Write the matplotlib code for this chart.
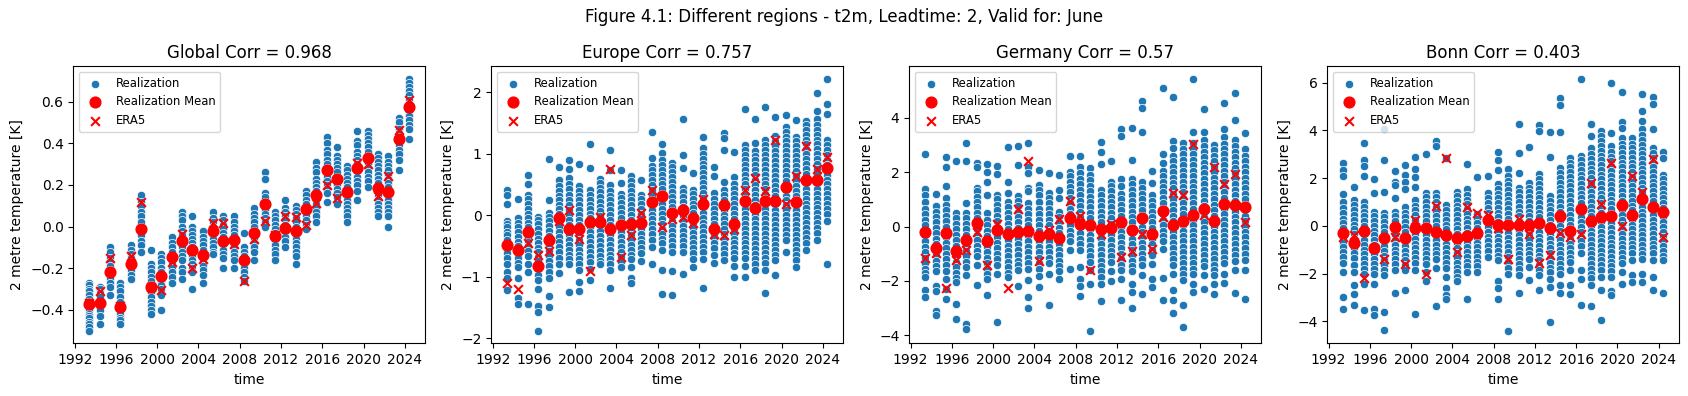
import matplotlib
matplotlib.use("Agg")
import matplotlib.pyplot as plt
import pandas as pd

years = list(range(1993, 2025))
regions = ["Global", "Europe", "Germany", "Bonn"]
correlations = ["0.968", "0.757", "0.57", "0.403"]

# ensemble members per year (dense runs thinned)
global_real = [
    [-0.27, -0.28, -0.30, -0.31, -0.33, -0.35, -0.36, -0.38, -0.39, -0.40, -0.42, -0.43, -0.44, -0.46, -0.47, -0.48, -0.50],
    [-0.29, -0.30, -0.32, -0.34, -0.36, -0.38, -0.39, -0.40, -0.43, -0.47],
    [-0.10, -0.12, -0.15, -0.17, -0.19, -0.21, -0.23, -0.25, -0.27, -0.29, -0.33],
    [-0.27, -0.29, -0.31, -0.34, -0.36, -0.38, -0.40, -0.42, -0.44, -0.45, -0.47],
    [-0.09, -0.11, -0.13, -0.15, -0.17, -0.19, -0.21, -0.23, -0.25],
    [0.15, 0.12, 0.10, 0.07, 0.05, 0.02, 0.00, -0.02, -0.04, -0.07, -0.09, -0.12],
    [-0.11, -0.18, -0.20, -0.22, -0.24, -0.26, -0.28, -0.30, -0.32, -0.34, -0.36, -0.38, -0.40, -0.42],
    [-0.13, -0.15, -0.17, -0.20, -0.22, -0.24, -0.26, -0.28, -0.30, -0.33, -0.40],
    [-0.05, -0.08, -0.10, -0.12, -0.14, -0.16, -0.18, -0.20, -0.22, -0.24, -0.27],
    [0.07, 0.05, 0.03, 0.00, -0.02, -0.04, -0.06, -0.08, -0.10, -0.12, -0.14, -0.16, -0.20, -0.22, -0.25],
    [0.05, 0.00, -0.02, -0.04, -0.06, -0.08, -0.10, -0.12, -0.14, -0.16, -0.18, -0.20, -0.22, -0.30],
    [-0.02, -0.05, -0.07, -0.09, -0.11, -0.13, -0.15, -0.17, -0.19, -0.21, -0.23, -0.27],
    [0.07, 0.04, 0.02, 0.00, -0.02, -0.04, -0.06, -0.08, -0.10, -0.12, -0.13],
    [0.05, 0.03, 0.01, -0.01, -0.03, -0.05, -0.07, -0.09, -0.11, -0.13, -0.15, -0.20],
    [0.05, 0.02, 0.00, -0.02, -0.04, -0.06, -0.08, -0.10, -0.12, -0.14, -0.16, -0.20],
    [-0.03, -0.10, -0.12, -0.14, -0.16, -0.18, -0.20, -0.22, -0.24, -0.26],
    [0.09, 0.06, 0.04, 0.02, 0.00, -0.02, -0.04, -0.06, -0.08, -0.10, -0.12, -0.16],
    [0.26, 0.23, 0.16, 0.14, 0.12, 0.10, 0.08, 0.06, 0.04, 0.02, 0.00],
    [0.07, 0.05, 0.03, 0.01, -0.01, -0.03, -0.05, -0.07, -0.09, -0.11, -0.13, -0.16],
    [0.13, 0.09, 0.07, 0.05, 0.03, 0.01, -0.01, -0.03, -0.05, -0.07, -0.10],
    [0.10, 0.08, 0.06, 0.04, 0.02, 0.00, -0.02, -0.04, -0.06, -0.08, -0.10, -0.12, -0.14, -0.18],
    [0.17, 0.15, 0.13, 0.11, 0.09, 0.07, 0.05, 0.03, 0.01, -0.01],
    [0.31, 0.28, 0.26, 0.23, 0.21, 0.19, 0.17, 0.15, 0.13, 0.11, 0.09, 0.07, 0.05, 0.02],
    [0.43, 0.40, 0.37, 0.35, 0.32, 0.30, 0.28, 0.26, 0.24, 0.22, 0.20, 0.18, 0.16, 0.12],
    [0.38, 0.34, 0.32, 0.30, 0.28, 0.26, 0.24, 0.22, 0.20, 0.18, 0.16, 0.14, 0.11],
    [0.29, 0.27, 0.25, 0.23, 0.21, 0.19, 0.17, 0.15, 0.13, 0.11, 0.09, 0.07, 0.05, 0.02],
    [0.46, 0.41, 0.39, 0.36, 0.34, 0.32, 0.30, 0.28, 0.26, 0.24, 0.22, 0.20, 0.17, 0.13],
    [0.46, 0.44, 0.42, 0.40, 0.38, 0.36, 0.34, 0.32, 0.30, 0.28, 0.26, 0.24, 0.22, 0.19],
    [0.35, 0.33, 0.31, 0.29, 0.27, 0.25, 0.23, 0.21, 0.19, 0.17, 0.15, 0.13, 0.11, 0.09, 0.07, 0.05],
    [0.34, 0.31, 0.29, 0.27, 0.25, 0.23, 0.21, 0.19, 0.17, 0.15, 0.13, 0.11, 0.09, 0.07, 0.05, 0.00],
    [0.52, 0.50, 0.47, 0.45, 0.43, 0.41, 0.39, 0.37, 0.35, 0.32, 0.27],
    [0.71, 0.69, 0.67, 0.65, 0.63, 0.61, 0.59, 0.57, 0.55, 0.53, 0.51, 0.49, 0.47, 0.42],
]
global_mean = [-0.37, -0.365, -0.22, -0.385, -0.18, -0.01, -0.29, -0.235, -0.145, -0.07, -0.11, -0.135, -0.02, -0.07,
               -0.065, -0.16, -0.03, 0.11, -0.045, -0.005, -0.02, 0.085, 0.15, 0.27, 0.23, 0.165, 0.28, 0.33, 0.185,
               0.165, 0.42, 0.575]
global_era5 = [-0.365, -0.31, -0.15, -0.38, -0.14, 0.12, -0.29, -0.305, -0.17, -0.035, -0.2, -0.155, 0.015, 0.015,
               -0.085, -0.26, -0.06, 0.025, -0.04, 0.05, 0.045, 0.01, 0.115, 0.2, 0.135, 0.165, 0.305, 0.3, 0.145,
               0.245, 0.465, 0.61]

europe_real = [
    [0.41, 0.33, 0.18, -0.09, -0.15, -0.20, -0.27, -0.33, -0.40, -0.47, -0.55, -0.62, -0.70, -0.80, -0.93, -1.02, -1.22],
    [0.27, -0.05, -0.12, -0.20, -0.28, -0.36, -0.43, -0.50, -0.57, -0.63, -0.70, -0.78, -0.85, -1.03, -1.35, -1.45],
    [0.65, 0.50, 0.33, 0.26, 0.18, 0.10, 0.02, -0.05, -0.12, -0.20, -0.28, -0.35, -0.43, -0.50, -0.58, -0.66, -0.80, -0.93, -1.44],
    [-0.03, -0.08, -0.15, -0.23, -0.30, -0.38, -0.46, -0.53, -0.60, -0.68, -0.75, -0.83, -0.90, -0.98, -1.05, -1.20, -1.47, -1.58, -1.88],
    [0.92, 0.24, 0.04, -0.03, -0.10, -0.18, -0.26, -0.34, -0.42, -0.50, -0.58, -0.66, -0.74, -0.82, -0.92, -1.03, -1.32, -1.49],
    [0.78, 0.57, 0.47, 0.40, 0.32, 0.25, 0.17, 0.10, 0.02, -0.05, -0.12, -0.20, -0.28, -0.35, -0.43, -0.52, -0.60, -0.70, -0.80, -0.94],
    [0.89, 0.75, 0.60, 0.50, 0.42, 0.33, 0.25, 0.17, 0.08, 0.00, -0.08, -0.16, -0.24, -0.32, -0.40, -0.48, -0.56, -0.64, -0.72, -0.80, -1.25],
    [0.83, 0.47, 0.40, 0.32, 0.24, 0.16, 0.08, 0.00, -0.08, -0.16, -0.24, -0.32, -0.40, -0.48, -0.56, -0.64, -0.72, -0.80, -0.90, -1.09, -1.24],
    [1.15, 0.76, 0.41, 0.33, 0.25, 0.17, 0.10, 0.02, -0.05, -0.12, -0.20, -0.28, -0.36, -0.44, -0.52, -0.60, -0.68, -0.76, -0.87, -1.06],
    [0.59, 0.52, 0.45, 0.38, 0.30, 0.22, 0.14, 0.06, -0.02, -0.10, -0.18, -0.26, -0.34, -0.42, -0.50, -0.58, -0.66, -0.74, -0.79],
    [1.06, 0.73, 0.49, 0.40, 0.32, 0.24, 0.16, 0.08, 0.00, -0.08, -0.16, -0.24, -0.32, -0.40, -0.48, -0.56, -0.64, -0.72, -0.80, -0.90, -1.18],
    [0.73, 0.53, 0.35, 0.28, 0.20, 0.12, 0.04, -0.04, -0.12, -0.20, -0.28, -0.36, -0.44, -0.52, -0.60, -0.68, -0.76, -0.84],
    [0.64, 0.56, 0.48, 0.40, 0.32, 0.24, 0.16, 0.08, 0.00, -0.08, -0.16, -0.24, -0.32, -0.40, -0.48, -0.56, -0.64, -0.72, -0.85, -1.02, -1.11],
    [0.57, 0.33, 0.26, 0.18, 0.10, 0.02, -0.06, -0.14, -0.22, -0.30, -0.38, -0.46, -0.54, -0.62, -0.74],
    [1.36, 0.93, 0.80, 0.73, 0.65, 0.57, 0.49, 0.41, 0.33, 0.25, 0.17, 0.09, 0.01, -0.07, -0.15, -0.23, -0.31, -0.40, -0.52, -0.79],
    [1.15, 1.01, 0.90, 0.82, 0.74, 0.66, 0.58, 0.50, 0.42, 0.34, 0.26, 0.18, 0.10, 0.02, -0.06, -0.14, -0.22, -0.30, -0.38, -0.46, -0.57, -0.90, -1.28],
    [0.85, 0.78, 0.70, 0.62, 0.54, 0.46, 0.38, 0.30, 0.22, 0.14, 0.06, -0.02, -0.10, -0.18, -0.26, -0.34, -0.42, -0.50, -0.60, -0.91, -1.30],
    [1.56, 0.98, 0.76, 0.45, 0.38, 0.30, 0.22, 0.14, 0.06, -0.02, -0.10, -0.18, -0.26, -0.34, -0.42, -0.50, -0.60, -0.96],
    [0.68, 0.41, 0.35, 0.27, 0.19, 0.11, 0.03, -0.05, -0.13, -0.21, -0.29, -0.37, -0.45, -0.53, -0.61, -0.71, -0.85],
    [1.27, 1.09, 1.00, 0.92, 0.84, 0.76, 0.68, 0.60, 0.52, 0.44, 0.36, 0.28, 0.20, 0.12, 0.04, -0.04, -0.12, -0.20, -0.28, -0.36, -0.44, -0.52, -0.60, -0.71, -1.18],
    [0.79, 0.63, 0.36, 0.26, 0.18, 0.10, 0.02, -0.06, -0.14, -0.22, -0.30, -0.38, -0.46, -0.54, -0.64, -0.77],
    [1.34, 1.25, 1.06, 0.54, 0.41, 0.33, 0.25, 0.17, 0.09, 0.01, -0.07, -0.15, -0.23, -0.31, -0.39, -0.47, -0.55, -0.63, -0.73],
    [1.02, 0.62, 0.50, 0.42, 0.34, 0.26, 0.18, 0.10, 0.02, -0.06, -0.14, -0.22, -0.30, -0.38, -0.46, -0.54, -0.62, -0.70, -0.82, -1.01],
    [1.73, 1.14, 1.06, 0.98, 0.90, 0.82, 0.74, 0.66, 0.58, 0.50, 0.42, 0.34, 0.26, 0.18, 0.10, 0.02, -0.06, -0.14, -0.22, -0.30, -0.38, -0.46, -0.54, -0.62, -0.70, -0.82, -1.01],
    [1.56, 1.17, 1.05, 0.97, 0.89, 0.81, 0.73, 0.65, 0.57, 0.49, 0.41, 0.33, 0.25, 0.17, 0.09, 0.01, -0.07, -0.15, -0.23, -0.31, -0.39, -0.47, -0.55, -0.63, -0.71, -0.79, -0.90],
    [1.76, 1.22, 1.14, 1.06, 0.98, 0.90, 0.82, 0.74, 0.66, 0.58, 0.50, 0.42, 0.34, 0.26, 0.18, 0.10, 0.02, -0.06, -0.14, -0.22, -0.30, -0.38, -0.46, -0.54, -0.62, -0.70, -0.78, -0.90, -1.26],
    [1.60, 1.29, 1.20, 1.12, 1.04, 0.96, 0.88, 0.80, 0.72, 0.64, 0.56, 0.48, 0.40, 0.32, 0.24, 0.16, 0.08, 0.00, -0.08, -0.16, -0.24, -0.32, -0.40, -0.48, -0.56, -0.64, -0.73, -0.98],
    [1.63, 1.44, 1.36, 1.28, 1.20, 1.12, 1.04, 0.96, 0.88, 0.80, 0.72, 0.64, 0.56, 0.48, 0.40, 0.32, 0.24, 0.16, 0.08, 0.00, -0.08, -0.16, -0.24, -0.32, -0.41, -0.60],
    [1.55, 1.28, 1.20, 1.12, 1.04, 0.96, 0.88, 0.80, 0.72, 0.64, 0.56, 0.48, 0.40, 0.32, 0.24, 0.16, 0.08, 0.00, -0.08, -0.16, -0.24, -0.32, -0.40, -0.48, -0.56, -0.64, -0.73, -0.84],
    [1.54, 1.47, 1.39, 1.31, 1.23, 1.15, 1.07, 0.99, 0.91, 0.83, 0.75, 0.67, 0.59, 0.51, 0.43, 0.35, 0.27, 0.19, 0.11, 0.03, -0.05, -0.13, -0.21, -0.29, -0.37, -0.45, -0.57],
    [1.99, 1.69, 1.56, 1.47, 1.39, 1.31, 1.23, 1.15, 1.07, 0.99, 0.91, 0.83, 0.75, 0.67, 0.59, 0.51, 0.43, 0.35, 0.27, 0.19, 0.11, 0.03, -0.05, -0.13, -0.21, -0.29, -0.41],
    [2.22, 1.81, 1.65, 1.22, 1.14, 1.06, 0.98, 0.90, 0.82, 0.74, 0.66, 0.58, 0.50, 0.42, 0.34, 0.26, 0.18, 0.10, 0.02, -0.09, -0.79],
]
europe_mean = [-0.49, -0.56, -0.27, -0.83, -0.41, -0.05, -0.22, -0.23, -0.11, -0.11, -0.23, -0.16, -0.14, -0.13, 0.22,
               0.31, 0.03, 0.08, -0.04, 0.18, -0.23, 0.17, -0.15, 0.23, 0.11, 0.23, 0.23, 0.46, 0.22, 0.57, 0.57, 0.77]
europe_era5 = [-1.10, -1.2, -0.46, -0.65, -0.58, -0.09, 0.09, -0.38, -0.91, -0.03, 0.75, -0.68, -0.33, 0.04, 0.41,
               -0.19, -0.07, -0.03, -0.13, 0.27, -0.31, -0.33, -0.23, 0.41, 0.60, 0.40, 1.22, 0.18, 0.64, 1.12, 0.75, 0.94]

germany_real = [
    [2.66, 1.37, 1.15, 0.90, 0.65, 0.45, 0.25, 0.05, -0.15, -0.35, -0.55, -0.75, -0.95, -1.15, -1.35, -1.55, -1.70, -1.85, -2.35, -2.60],
    [1.18, 0.76, 0.54, 0.35, 0.15, -0.05, -0.25, -0.45, -0.65, -0.85, -1.05, -1.25, -1.45, -1.65, -2.17, -2.38, -3.09, -3.27],
    [2.55, 2.20, 1.50, 1.03, 0.80, 0.60, 0.40, 0.20, 0.00, -0.20, -0.40, -0.60, -0.80, -1.00, -1.20, -1.40, -1.64, -1.92, -2.29, -2.66],
    [2.41, 0.48, 0.30, 0.10, -0.10, -0.30, -0.50, -0.70, -0.90, -1.10, -1.30, -1.50, -1.70, -1.90, -2.04, -2.84, -3.40],
    [3.06, 2.41, 0.85, 0.50, 0.30, 0.10, -0.10, -0.30, -0.50, -0.70, -0.90, -1.10, -1.30, -1.50, -1.77, -3.58, -3.77],
    [2.35, 2.20, 1.43, 1.30, 1.10, 0.90, 0.70, 0.50, 0.30, 0.10, -0.10, -0.30, -0.50, -0.70, -0.90, -1.10, -1.43, -2.14],
    [2.29, 2.02, 1.62, 1.16, 0.48, 0.25, 0.05, -0.15, -0.35, -0.55, -0.75, -0.95, -1.15, -1.35, -1.55, -1.75, -1.92, -2.50],
    [2.23, 1.93, 1.16, 1.00, 0.80, 0.60, 0.40, 0.20, 0.00, -0.20, -0.40, -0.60, -0.80, -1.00, -1.20, -1.40, -1.73, -3.50],
    [2.92, 1.65, 1.22, 0.90, 0.70, 0.50, 0.30, 0.10, -0.10, -0.30, -0.50, -0.70, -0.90, -1.10, -1.30, -1.50, -1.70, -1.86],
    [2.97, 2.26, 1.13, 0.95, 0.75, 0.55, 0.35, 0.15, -0.05, -0.25, -0.45, -0.65, -0.85, -1.05, -1.25, -1.40, -1.59, -2.17],
    [3.06, 2.20, 1.96, 1.40, 1.30, 0.87, 0.65, 0.45, 0.25, 0.05, -0.15, -0.35, -0.55, -0.75, -0.95, -1.15, -1.35, -1.55, -1.98, -2.60, -2.99],
    [2.08, 1.53, 1.35, 1.16, 0.90, 0.65, 0.45, 0.25, 0.05, -0.15, -0.35, -0.55, -0.75, -0.95, -1.15, -1.35, -1.55, -1.83, -2.23],
    [1.98, 1.22, 1.05, 0.85, 0.65, 0.45, 0.25, 0.05, -0.15, -0.35, -0.55, -0.75, -0.95, -1.15, -1.35, -1.73, -2.90],
    [1.90, 1.34, 1.05, 0.54, 0.35, 0.15, -0.05, -0.25, -0.45, -0.65, -0.85, -1.05, -1.25, -1.45, -1.65, -1.92],
    [2.60, 2.02, 1.85, 1.65, 1.45, 1.25, 1.05, 0.85, 0.65, 0.45, 0.25, 0.05, -0.15, -0.35, -0.55, -0.87, -1.55],
    [2.60, 2.20, 1.96, 1.75, 1.55, 1.35, 1.15, 0.95, 0.75, 0.55, 0.35, 0.15, -0.05, -0.25, -0.45, -0.65, -0.87, -1.49, -1.92, -2.20, -2.54],
    [2.14, 1.90, 1.70, 1.50, 1.30, 1.10, 0.90, 0.70, 0.50, 0.30, 0.10, -0.10, -0.30, -0.50, -0.70, -0.90, -1.10, -1.30, -1.61, -2.13, -3.83],
    [3.10, 2.73, 2.29, 1.35, 1.15, 0.95, 0.75, 0.55, 0.35, 0.15, -0.05, -0.25, -0.45, -0.65, -0.85, -1.05, -1.25, -1.45, -1.65, -1.85, -2.10, -2.72],
    [2.39, 1.65, 1.50, 1.30, 1.10, 0.90, 0.70, 0.50, 0.30, 0.10, -0.10, -0.30, -0.50, -0.70, -0.90, -1.10, -1.30, -1.64, -2.00],
    [3.58, 3.34, 1.74, 1.49, 1.20, 1.00, 0.80, 0.60, 0.40, 0.20, 0.00, -0.20, -0.40, -0.60, -0.80, -1.00, -1.20, -1.40, -1.60, -1.92, -2.70],
    [3.62, 2.45, 1.74, 1.56, 1.35, 1.15, 0.95, 0.75, 0.55, 0.35, 0.15, -0.05, -0.25, -0.45, -0.65, -0.85, -1.05, -1.25, -1.45, -1.65, -2.10, -2.41, -2.99],
    [4.63, 4.36, 3.47, 1.65, 1.40, 1.20, 1.00, 0.80, 0.60, 0.40, 0.20, 0.00, -0.20, -0.40, -0.60, -0.80, -1.00, -1.20, -1.40, -1.80, -2.47],
    [2.04, 1.61, 1.16, 0.95, 0.75, 0.55, 0.35, 0.15, -0.05, -0.25, -0.45, -0.65, -0.85, -1.05, -1.37, -1.92, -2.23],
    [5.10, 2.66, 2.33, 2.05, 1.85, 1.65, 1.45, 1.25, 1.05, 0.85, 0.65, 0.45, 0.25, 0.05, -0.15, -0.35, -0.55, -0.81, -1.88, -2.70],
    [4.76, 3.15, 2.90, 2.60, 2.40, 2.20, 2.00, 1.80, 1.60, 1.40, 1.20, 1.00, 0.80, 0.60, 0.40, 0.20, 0.00, -0.20, -0.40, -0.60, -0.80, -1.00, -1.20, -1.40, -1.73, -2.33, -2.70, -3.19],
    [3.06, 2.85, 2.65, 2.45, 2.25, 2.05, 1.85, 1.65, 1.45, 1.25, 1.05, 0.85, 0.65, 0.45, 0.25, 0.05, -0.15, -0.35, -0.55, -0.75, -0.95, -1.15, -1.35, -1.55, -1.75, -1.96, -2.90, -3.68],
    [5.43, 3.46, 3.06, 2.85, 2.65, 2.45, 2.25, 2.05, 1.85, 1.65, 1.45, 1.25, 1.05, 0.85, 0.65, 0.45, 0.25, 0.05, -0.15, -0.35, -0.55, -0.75, -0.95, -1.15, -1.35, -1.55, -1.75, -2.10, -2.39],
    [4.32, 3.47, 3.19, 2.95, 2.75, 2.55, 2.35, 2.15, 1.95, 1.75, 1.55, 1.35, 1.15, 0.95, 0.75, 0.55, 0.35, 0.15, -0.05, -0.25, -0.45, -0.65, -0.85, -1.05, -1.25, -1.45, -1.80, -2.29],
    [3.00, 2.80, 2.60, 2.40, 2.20, 2.00, 1.80, 1.60, 1.40, 1.20, 1.00, 0.80, 0.60, 0.40, 0.20, 0.00, -0.20, -0.40, -0.60, -0.80, -1.00, -1.20, -1.40, -1.60, -1.80, -2.10, -2.47],
    [4.52, 3.58, 3.29, 3.05, 2.85, 2.65, 2.45, 2.25, 2.05, 1.85, 1.65, 1.45, 1.25, 1.05, 0.85, 0.65, 0.45, 0.25, 0.05, -0.15, -0.35, -0.55, -0.75, -0.95, -1.15, -1.35, -1.73, -2.07],
    [4.89, 3.93, 3.19, 2.95, 2.75, 2.55, 2.35, 2.15, 1.95, 1.75, 1.55, 1.35, 1.15, 0.95, 0.75, 0.55, 0.35, 0.15, -0.05, -0.25, -0.45, -0.65, -0.85, -1.05, -1.25, -1.61, -2.44],
    [3.43, 2.86, 2.60, 2.40, 2.20, 2.00, 1.80, 1.60, 1.40, 1.20, 1.00, 0.80, 0.60, 0.40, 0.20, 0.00, -0.20, -0.40, -0.60, -0.80, -1.00, -1.24, -1.59, -2.66],
]
germany_mean = [-0.2, -0.78, -0.23, -0.91, -0.48, 0.14, -0.54, -0.14, -0.28, -0.22, -0.18, -0.34, -0.28, -0.41, 0.3,
                0.09, 0.05, -0.11, -0.05, 0.15, -0.14, 0.33, -0.28, 0.57, 0.05, 0.21, 0.42, 0.66, 0.2, 0.82, 0.79, 0.73]
germany_era5 = [-1.16, -0.96, -2.25, -1.24, -0.85, -0.22, -1.43, 0.11, -2.25, 0.63, 2.39, -1.27, -0.14, 0.27, 0.95,
                0.39, -1.58, -0.28, 0.11, -1.12, -0.91, -0.28, -0.81, 0.36, 1.22, 1.16, 3.03, 0.42, 2.18, 1.56, 1.93, 0.15]

bonn_real = [
    [2.63, 2.35, 2.09, 1.33, 1.00, 0.75, 0.52, 0.30, 0.10, -0.10, -0.30, -0.50, -0.70, -0.90, -1.10, -1.30, -1.55, -1.94, -2.99, -3.48],
    [1.62, 1.08, 0.87, 0.65, 0.45, 0.25, 0.05, -0.15, -0.35, -0.55, -0.75, -0.95, -1.15, -1.35, -1.66, -1.94, -2.50, -2.88, -3.30],
    [3.47, 2.77, 2.49, 2.11, 1.01, 0.80, 0.60, 0.40, 0.20, 0.00, -0.20, -0.40, -0.60, -0.80, -1.00, -1.20, -1.40, -1.60, -1.80, -2.00, -2.43, -3.51],
    [1.95, 1.36, 0.59, 0.40, 0.20, 0.00, -0.20, -0.40, -0.60, -0.80, -1.00, -1.20, -1.40, -1.60, -1.80, -2.00, -2.43, -3.48, -3.72],
    [4.07, 2.77, 1.43, 0.55, 0.35, 0.15, -0.05, -0.25, -0.45, -0.65, -0.85, -1.05, -1.25, -1.45, -1.65, -1.85, -2.08, -3.60, -4.35],
    [2.30, 1.85, 1.71, 1.15, 0.59, 0.40, 0.20, 0.00, -0.20, -0.40, -0.60, -0.80, -1.00, -1.20, -1.40, -1.60, -1.87, -2.81],
    [2.56, 2.13, 1.85, 1.53, 0.77, 0.55, 0.35, 0.15, -0.05, -0.25, -0.45, -0.65, -0.85, -1.05, -1.25, -1.45, -1.65, -1.87, -2.71],
    [2.87, 2.37, 2.04, 1.64, 1.08, 0.85, 0.65, 0.45, 0.25, 0.05, -0.15, -0.35, -0.55, -0.75, -0.95, -1.15, -1.35, -1.55, -1.87, -3.69],
    [3.01, 1.39, 1.20, 1.00, 0.80, 0.60, 0.40, 0.20, 0.00, -0.20, -0.40, -0.60, -0.80, -1.00, -1.20, -1.40, -1.60, -1.94, -2.30],
    [3.57, 3.36, 1.39, 1.20, 1.00, 0.80, 0.60, 0.40, 0.20, 0.00, -0.20, -0.40, -0.60, -0.80, -1.00, -1.20, -1.40, -1.76, -3.38],
    [2.84, 0.87, 0.65, 0.45, 0.25, 0.05, -0.15, -0.35, -0.55, -0.75, -0.95, -1.15, -1.35, -1.55, -1.75, -2.15, -2.60, -2.92, -3.06],
    [1.43, 1.25, 1.05, 0.85, 0.65, 0.45, 0.25, 0.05, -0.15, -0.35, -0.55, -0.75, -0.95, -1.15, -1.35, -1.55, -1.75, -1.95, -2.15, -2.32],
    [2.58, 1.53, 1.30, 1.10, 0.90, 0.70, 0.50, 0.30, 0.10, -0.10, -0.30, -0.50, -0.70, -0.90, -1.10, -1.30, -1.50, -1.70, -1.94, -3.06],
    [2.06, 0.50, 0.30, 0.10, -0.10, -0.30, -0.50, -0.70, -0.90, -1.10, -1.30, -1.50, -1.70, -1.94],
    [2.11, 1.39, 1.15, 0.95, 0.75, 0.55, 0.35, 0.15, -0.05, -0.25, -0.45, -0.65, -0.85, -1.05, -1.31],
    [3.08, 2.77, 2.35, 1.74, 1.55, 1.35, 1.15, 0.95, 0.75, 0.55, 0.35, 0.15, -0.05, -0.25, -0.45, -0.65, -0.85, -1.05, -1.25, -1.45, -2.32, -2.60, -3.06],
    [2.37, 2.10, 1.90, 1.70, 1.50, 1.30, 1.10, 0.90, 0.70, 0.50, 0.30, 0.10, -0.10, -0.30, -0.50, -0.70, -0.90, -1.10, -1.30, -1.50, -1.75, -2.01, -4.40],
    [4.27, 3.05, 2.20, 1.60, 1.40, 1.20, 1.00, 0.80, 0.60, 0.40, 0.20, 0.00, -0.20, -0.40, -0.60, -0.80, -1.00, -1.20, -1.40, -1.60, -1.80, -2.08, -2.81],
    [3.30, 1.78, 1.60, 1.40, 1.20, 1.00, 0.80, 0.60, 0.40, 0.20, 0.00, -0.20, -0.40, -0.60, -0.80, -1.00, -1.20, -1.40, -1.73, -2.29],
    [4.24, 3.99, 2.16, 1.95, 1.75, 1.55, 1.35, 1.15, 0.95, 0.75, 0.55, 0.35, 0.15, -0.05, -0.25, -0.45, -0.65, -0.85, -1.05, -1.25, -1.45, -1.65, -1.85, -2.08, -2.68],
    [3.93, 2.88, 1.25, 1.05, 0.85, 0.65, 0.45, 0.25, 0.05, -0.15, -0.35, -0.55, -0.75, -0.95, -1.15, -1.35, -1.55, -1.75, -1.95, -2.22, -2.57, -4.02],
    [5.37, 5.08, 3.93, 2.42, 2.20, 2.00, 1.80, 1.60, 1.40, 1.20, 1.00, 0.80, 0.60, 0.40, 0.20, 0.00, -0.20, -0.40, -0.60, -0.80, -1.00, -1.20, -1.40, -1.60, -1.80, -2.00, -2.50, -2.81],
    [2.84, 2.65, 2.45, 2.25, 2.05, 1.85, 1.65, 1.45, 1.25, 1.05, 0.85, 0.65, 0.45, 0.25, 0.05, -0.15, -0.35, -0.55, -0.75, -0.95, -1.15, -1.35, -1.52, -1.87, -2.50, -2.85],
    [6.17, 2.94, 2.75, 2.55, 2.35, 2.15, 1.95, 1.75, 1.55, 1.35, 1.15, 0.95, 0.75, 0.55, 0.35, 0.15, -0.05, -0.25, -0.45, -0.65, -0.85, -1.14, -1.84, -2.22, -3.34],
    [4.27, 3.78, 3.26, 3.00, 2.80, 2.60, 2.40, 2.20, 2.00, 1.80, 1.60, 1.40, 1.20, 1.00, 0.80, 0.60, 0.40, 0.20, 0.00, -0.20, -0.40, -0.60, -0.80, -1.00, -1.20, -1.40, -1.60, -1.80, -2.00, -2.20, -2.50, -3.38],
    [3.96, 3.75, 3.55, 3.35, 3.15, 2.95, 2.75, 2.55, 2.35, 2.15, 1.95, 1.75, 1.55, 1.35, 1.15, 0.95, 0.75, 0.55, 0.35, 0.15, -0.05, -0.25, -0.45, -0.65, -0.85, -1.05, -1.25, -1.45, -1.65, -1.85, -2.15, -2.68, -3.95],
    [6.00, 3.89, 3.33, 3.10, 2.90, 2.70, 2.50, 2.30, 2.10, 1.90, 1.70, 1.50, 1.30, 1.10, 0.90, 0.70, 0.50, 0.30, 0.10, -0.10, -0.30, -0.50, -0.70, -0.90, -1.10, -1.30, -1.50, -1.70, -1.90, -2.15, -2.74, -2.92],
    [5.62, 4.34, 4.10, 3.68, 3.45, 3.25, 3.05, 2.85, 2.65, 2.45, 2.25, 2.05, 1.85, 1.65, 1.45, 1.25, 1.05, 0.85, 0.65, 0.45, 0.25, 0.05, -0.15, -0.35, -0.55, -0.75, -0.95, -1.15, -1.35, -1.55, -1.94, -2.46],
    [3.68, 3.45, 3.25, 3.05, 2.85, 2.65, 2.45, 2.25, 2.05, 1.85, 1.65, 1.45, 1.25, 1.05, 0.85, 0.65, 0.45, 0.25, 0.05, -0.15, -0.35, -0.55, -0.75, -0.95, -1.15, -1.45, -2.08, -2.36],
    [5.51, 4.80, 4.38, 4.06, 3.80, 3.60, 3.40, 3.20, 3.00, 2.80, 2.60, 2.40, 2.20, 2.00, 1.80, 1.60, 1.40, 1.20, 1.00, 0.80, 0.60, 0.40, 0.20, 0.00, -0.20, -0.40, -0.60, -0.80, -1.00, -1.20, -1.40, -2.01, -2.36],
    [5.39, 5.13, 4.06, 3.26, 3.05, 2.85, 2.65, 2.45, 2.25, 2.05, 1.85, 1.65, 1.45, 1.25, 1.05, 0.85, 0.65, 0.45, 0.25, 0.05, -0.15, -0.35, -0.55, -0.75, -0.95, -1.15, -1.45, -2.15, -2.68],
    [3.08, 2.84, 2.13, 1.95, 1.75, 1.55, 1.35, 1.15, 0.95, 0.75, 0.55, 0.35, 0.15, -0.05, -0.25, -0.45, -0.65, -0.85, -1.05, -1.25, -1.45, -2.81],
]
bonn_mean = [-0.28, -0.7, -0.21, -0.94, -0.49, -0.04, -0.53, -0.07, -0.11, -0.25, -0.39, -0.53, -0.42, -0.32, 0.24,
             0.03, 0.03, 0.03, 0.03, 0.1, -0.11, 0.41, -0.22, 0.69, 0.21, 0.35, 0.41, 0.87, 0.45, 1.11, 0.8, 0.59]
bonn_era5 = [-0.46, -0.39, -2.18, -0.91, -1.38, -0.46, -1.59, 0.24, -2.01, 0.83, 2.84, -1.1, 0.77, 0.52, 0.45,
             -0.11, -1.38, 0.27, -0.35, -1.56, -1.21, -0.32, -0.46, -0.35, 1.78, 0.91, 2.65, -0.01, 2.11, 1.43, 2.79, -0.46]

panels = [
    (global_real, global_mean, global_era5),
    (europe_real, europe_mean, europe_era5),
    (germany_real, germany_mean, germany_era5),
    (bonn_real, bonn_mean, bonn_era5),
]

dates = pd.to_datetime([f"{y}-06-01" for y in years])

fig, axes = plt.subplots(1, 4, figsize=(16.88, 3.96), dpi=100)
fig.subplots_adjust(left=0.0434, right=0.9947, bottom=0.133, top=0.833, wspace=0.188)

for ax, name, corr, (real, mean, era5) in zip(axes, regions, correlations, panels):
    xs, ys = [], []
    for d, vals in zip(dates, real):
        xs.extend([d] * len(vals))
        ys.extend(vals)
    ax.scatter(xs, ys, s=36, color="#1f77b4", edgecolors="white", linewidths=0.5,
               label="Realization", zorder=2)
    ax.scatter(dates, mean, s=60, color="red", label="Realization Mean", zorder=3)
    ax.scatter(dates, era5, s=40, color="red", marker="x", linewidths=1.5, label="ERA5", zorder=4)
    ax.set_title(f"{name} Corr = {corr}")
    ax.set_xlabel("time")
    ax.set_ylabel("2 metre temperature [K]")
    ax.legend(loc="upper left", fontsize="small")

fig.suptitle("Figure 4.1: Different regions - t2m, Leadtime: 2, Valid for: June")
fig.savefig("out.png", dpi=100)
